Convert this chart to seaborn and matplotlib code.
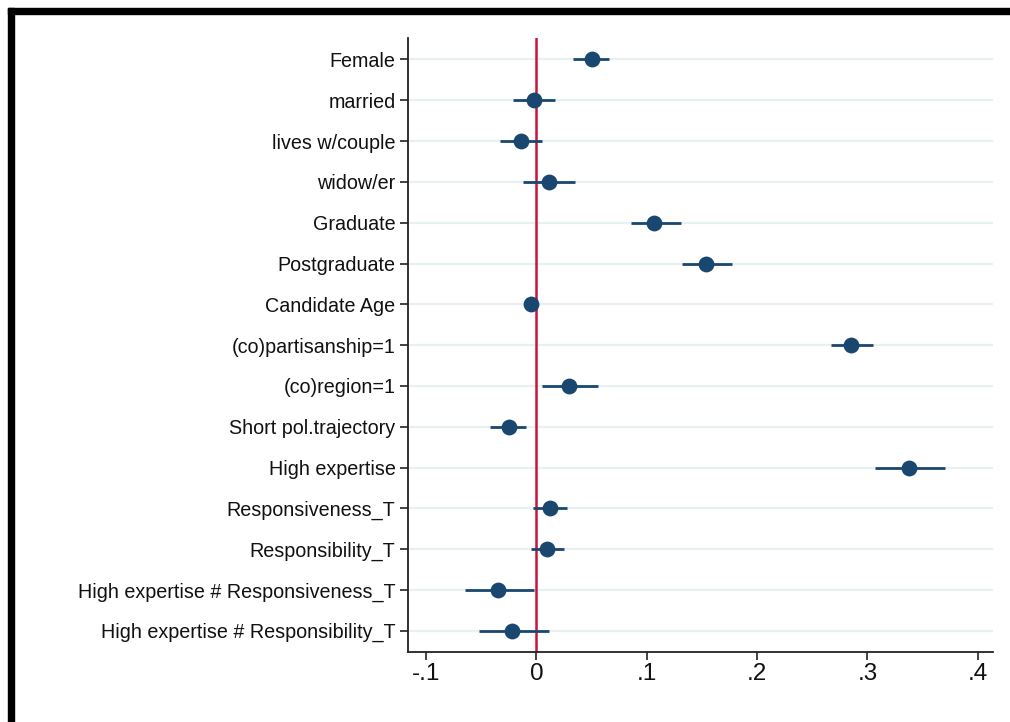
import numpy as np
import pandas as pd
import matplotlib
matplotlib.use("Agg")
import matplotlib.pyplot as plt
import seaborn as sns
from matplotlib.patches import Rectangle

# coefficient labels, point estimates and 95% CI bounds
labels = [
    "Female", "married", "lives w/couple", "widow/er", "Graduate",
    "Postgraduate", "Candidate Age", "(co)partisanship=1", "(co)region=1",
    "Short pol.trajectory", "High expertise", "Responsiveness_T",
    "Responsibility_T", "High expertise # Responsiveness_T",
    "High expertise # Responsibility_T",
]
estimate = [0.050, -0.002, -0.014, 0.011, 0.107, 0.154, -0.005, 0.285,
            0.030, -0.025, 0.338, 0.012, 0.010, -0.035, -0.022]
ci_low = [0.033, -0.021, -0.033, -0.012, 0.086, 0.132, -0.006, 0.267,
          0.005, -0.042, 0.307, -0.003, -0.005, -0.065, -0.052]
ci_high = [0.066, 0.017, 0.005, 0.035, 0.131, 0.177, -0.003, 0.305,
           0.056, -0.009, 0.370, 0.028, 0.025, -0.002, 0.011]
xticks = [-0.1, 0, 0.1, 0.2, 0.3, 0.4]
xtick_labels = ["-.1", "0", ".1", ".2", ".3", ".4"]

navy = "#1a476f"
red = "#c8143c"
grid_col = "#e8f0f2"

sns.set_style("white")
plt.rcParams["font.family"] = ["Liberation Sans", "DejaVu Sans"]

df = pd.DataFrame({"term": labels, "est": estimate, "lo": ci_low, "hi": ci_high})
df["pos"] = np.arange(len(df))

fig = plt.figure(figsize=(10.1, 7.22), dpi=100)
ax = fig.add_axes([0.404, 0.097, 0.579, 0.850])

for p in df["pos"]:
    ax.axhline(p, color=grid_col, lw=1.6, zorder=0)

ax.axvline(0, color=red, lw=1.8, zorder=1)
ax.hlines(df["pos"], df["lo"], df["hi"], color=navy, lw=2.0, zorder=2)
sns.scatterplot(data=df, x="est", y="pos", ax=ax, color=navy, s=130,
                edgecolor=navy, linewidth=0, zorder=3, legend=False)

ax.set_ylim(len(df) - 0.48, -0.52)
ax.set_xlim(-0.1163, 0.4136)
ax.set_yticks(df["pos"])
ax.set_yticklabels(df["term"], fontsize=14.2, color="#111111")
ax.set_xticks(xticks)
ax.set_xticklabels(xtick_labels, fontsize=17.5, color="#111111")
ax.set_xlabel("")
ax.set_ylabel("")

for side in ["top", "right"]:
    ax.spines[side].set_visible(False)
for side in ["left", "bottom"]:
    ax.spines[side].set_color("#222222")
    ax.spines[side].set_linewidth(1.3)
ax.tick_params(axis="both", direction="out", length=6, width=1.2,
               color="#222222", left=True, bottom=True)
ax.tick_params(axis="y", pad=3)
ax.tick_params(axis="x", pad=2)

# black frame on the top and left edge of the image
fig.patches.append(Rectangle((8 / 1010, 0), 6 / 1010, 1 - 8 / 722,
                             transform=fig.transFigure, color="black"))
fig.patches.append(Rectangle((8 / 1010, 1 - 14 / 722), 1, 6 / 722,
                             transform=fig.transFigure, color="black"))

fig.savefig("out.png", dpi=100, facecolor="white")
